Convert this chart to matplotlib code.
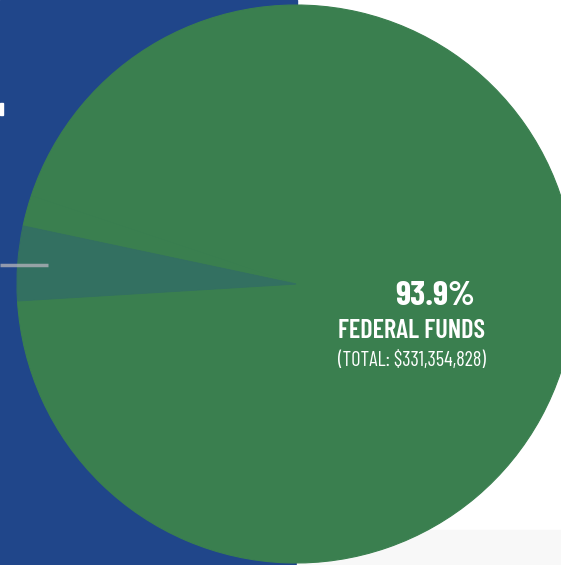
import matplotlib
matplotlib.use("Agg")
import matplotlib.pyplot as plt
from matplotlib.patches import Rectangle

# funding shares (percent); the teal wedge is the visible non-federal slice
labels = ["Non-federal", "Federal Funds", "Other"]
shares = [4.3, 93.9, 1.8]
colors = ["#337061", "#3a7f4f", "#3a7f4f"]

headline = "93.9%"
title = "FEDERAL FUNDS"
subtitle = "(TOTAL: $331,354,828)"

W, H = 561, 565
BLUE = "#20468a"


def iy(y):
    # image y (top-down) -> axes y (bottom-up)
    return H - y


fig = plt.figure(figsize=(W / 100, H / 100), dpi=100)
ax = fig.add_axes([0, 0, 1, 1])

# blue panel on the left, faint grey strip at the bottom right
ax.add_patch(Rectangle((0, 0), 297, H, color=BLUE, zorder=0))
ax.add_patch(Rectangle((297, 0), W - 297, 35, color="#f8f8f8", zorder=0))

wedges, _ = ax.pie(shares, colors=colors, startangle=168, counterclock=True,
                   center=(296, iy(284)), radius=279,
                   explode=[3 / 279, 0, 0], frame=True)
for w, c in zip(wedges, colors):
    w.set_edgecolor(c)
    w.set_linewidth(0.8)
wedges[0].set_zorder(3)

ax.set_xlim(0, W)
ax.set_ylim(0, H)
ax.set_aspect("equal")
ax.axis("off")

# leader line and label marker from the (cropped) left-hand legend
ax.plot([0, 48], [iy(265), iy(265)], color="#b0b0b8", lw=2.5, alpha=0.8,
        solid_capstyle="butt", zorder=5)
ax.add_patch(Rectangle((0, iy(115)), 3, 12, color="white", zorder=5))

ax.text(435, iy(296), headline, color="white", fontsize=25, fontweight="bold",
        family="Barlow Condensed", ha="center", va="center", zorder=6)
ax.text(412, iy(331), title, color="white", fontsize=19, fontweight="semibold",
        family="Barlow Condensed", ha="center", va="center", zorder=6)
ax.text(412, iy(361), subtitle, color="white", fontsize=14.6, fontweight="normal",
        family="Barlow Condensed", ha="center", va="center", zorder=6)

fig.savefig("out.png", dpi=100)
